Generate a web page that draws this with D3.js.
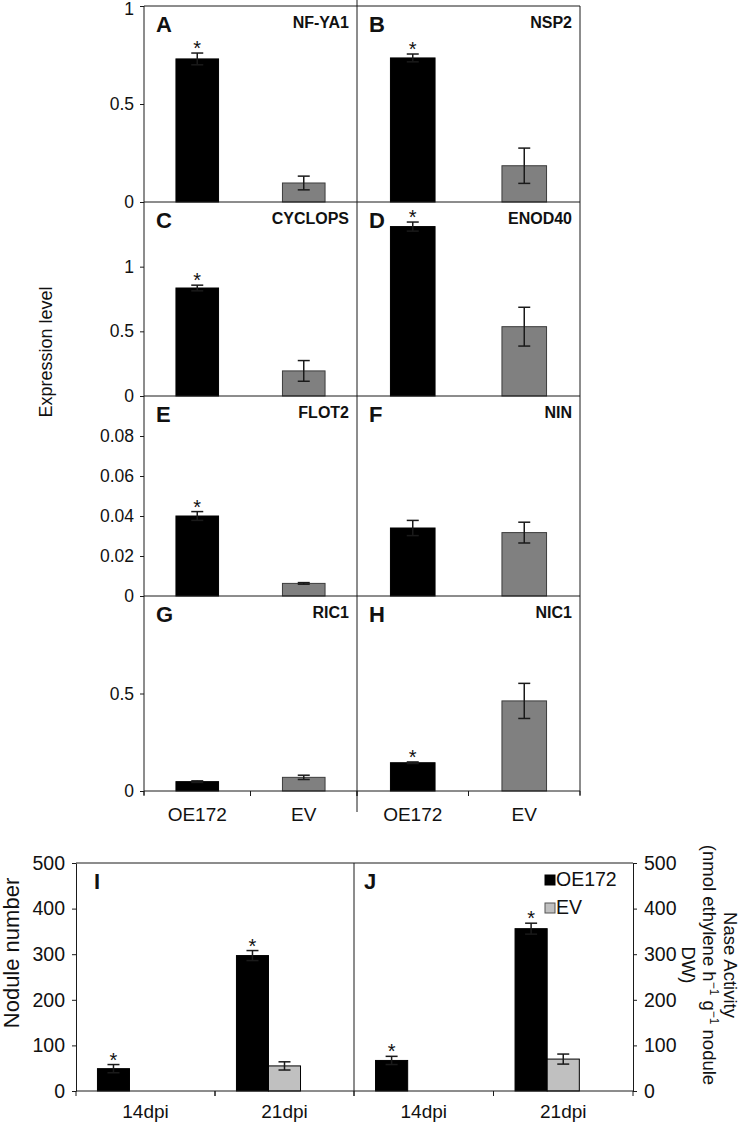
<!DOCTYPE html>
<html><head><meta charset="utf-8">
<script src="https://cdn.jsdelivr.net/npm/d3@7"></script>
<style>
html,body{margin:0;padding:0;background:#fff;}
svg{display:block;font-family:"Liberation Sans",Arial,Helvetica,sans-serif;}
</style></head><body>
<svg id="chart" width="742" height="1127"></svg>
<script>
// ---------------- DATA ----------------
const categories = ["OE172", "EV"];
const panelLetters = ["A", "B", "C", "D", "E", "F", "G", "H"];
const geneNames = ["NF-YA1", "NSP2", "CYCLOPS", "ENOD40", "FLOT2", "NIN", "RIC1", "NIC1"];
const oe172Expression    = [0.73, 0.735, 0.835, 1.31, 0.040, 0.034, 0.048, 0.145];
const oe172ExpressionErr = [0.03, 0.02, 0.022, 0.035, 0.0022, 0.0038, 0.004, 0.004];
const evExpression       = [0.097, 0.185, 0.194, 0.536, 0.0063, 0.0317, 0.070, 0.462];
const evExpressionErr    = [0.035, 0.09, 0.08, 0.15, 0.0004, 0.0052, 0.011, 0.09];
const oe172Significant   = [true, true, true, true, true, false, false, true];
const rowMaxima = [1, 1.5, 0.1, 1];
const rowTickValues = [[0, 0.5, 1], [0, 0.5, 1], [0, 0.02, 0.04, 0.06, 0.08], [0, 0.5]];

const timepoints = ["14dpi", "21dpi"];
const seriesNames = ["OE172", "EV"];
const noduleNumberOE172    = [49, 297];
const noduleNumberOE172Err = [9, 11];
const noduleNumberEV       = [null, 55];
const noduleNumberEVErr    = [null, 9];
const naseActivityOE172    = [67, 356];
const naseActivityOE172Err = [9, 12];
const naseActivityEV       = [null, 70];
const naseActivityEVErr    = [null, 11];
const bottomSignificantOE172 = [true, true];
const bottomMax = 500;
const bottomTickValues = [0, 100, 200, 300, 400, 500];

// ---------------- DRAWING ----------------
const svg = d3.select("#chart");
const LINE = "#1a1a1a";

function line(g, x1, y1, x2, y2, w = 1) {
  g.append("line").attr("x1", x1).attr("y1", y1).attr("x2", x2).attr("y2", y2)
    .attr("stroke", LINE).attr("stroke-width", w);
}
function errorBar(g, cx, yTop, yBot, cap = 6) {
  line(g, cx, yTop, cx, yBot, 1.5);
  line(g, cx - cap, yTop, cx + cap, yTop, 1.5);
  line(g, cx - cap, yBot, cx + cap, yBot, 1.5);
}
function star(g, cx, yTop) {
  g.append("text").attr("x", cx).attr("y", yTop + 2)
    .attr("text-anchor", "middle").attr("font-size", 20).attr("fill", "#111").text("*");
}

// ===== Top: expression panels A-H =====
const T = { left: 144, mid: 357, right: 580, top: 6, bottom: 791 };
const rowEdges = [6, 202, 396, 596, 791];
const colRanges = [[T.left, T.mid], [T.mid, T.right]];
const xCols = colRanges.map(r => d3.scaleBand().domain(categories).range(r).paddingInner(0.6).paddingOuter(0.3));
const yRows = rowMaxima.map((m, r) => d3.scaleLinear().domain([0, m]).range([rowEdges[r + 1], rowEdges[r]]));

const topG = svg.append("g");
const seriesFill = ["#000000", "#808080"];
const seriesStroke = ["#000000", "#3c3c3c"];

for (let i = 0; i < geneNames.length; i++) {
  const r = Math.floor(i / 2), c = i % 2;
  const x = xCols[c], y = yRows[r];
  const vals = [oe172Expression[i], evExpression[i]];
  const errs = [oe172ExpressionErr[i], evExpressionErr[i]];
  categories.forEach((cat, k) => {
    topG.append("rect")
      .attr("x", x(cat)).attr("width", x.bandwidth())
      .attr("y", y(vals[k])).attr("height", y(0) - y(vals[k]))
      .attr("fill", seriesFill[k]).attr("stroke", seriesStroke[k]).attr("stroke-width", 1);
    const cx = x(cat) + x.bandwidth() / 2;
    errorBar(topG, cx, y(vals[k] + errs[k]), y(Math.max(0, vals[k] - errs[k])));
    if (k === 0 && oe172Significant[i]) star(topG, cx, y(vals[k] + errs[k]));
  });
  const [cl, cr] = colRanges[c];
  topG.append("text").attr("x", cl + 12).attr("y", rowEdges[r] + 26)
    .attr("font-size", 22).attr("font-weight", "bold").attr("fill", "#111").text(panelLetters[i]);
  topG.append("text").attr("x", cr - 8).attr("y", rowEdges[r] + 22)
    .attr("text-anchor", "end").attr("font-size", 16).attr("font-weight", "bold").attr("fill", "#111").text(geneNames[i]);
}

// frame lines
rowEdges.forEach(yy => line(topG, T.left, yy, T.right, yy));
line(topG, T.left, T.top, T.left, T.bottom + 4);
line(topG, T.mid, 0, T.mid, T.bottom + 21);
line(topG, T.right, T.top, T.right, T.bottom + 4);

// left axes
yRows.forEach((y, r) => {
  const ax = topG.append("g").attr("transform", `translate(${T.left},0)`)
    .call(d3.axisLeft(y).tickValues(rowTickValues[r]).tickSize(4).tickSizeOuter(0).tickPadding(6)
      .tickFormat(d => String(d)));
  ax.select(".domain").remove();
  ax.selectAll("line").attr("stroke", LINE);
  ax.selectAll("text").attr("font-size", 17.5).attr("fill", "#111")
    .attr("font-family", "Liberation Sans, Arial, sans-serif")
    .attr("dy", d => (r === 0 && d === rowMaxima[0]) ? "0.5em" : "0.32em");
});

// bottom category axis
xCols.forEach((x, c) => {
  const [cl, cr] = colRanges[c];
  const boundary = (x(categories[0]) + x.bandwidth() + x(categories[1])) / 2;
  [cl, boundary, cr].forEach(px => line(topG, px, T.bottom, px, T.bottom + 5));
  categories.forEach(cat => {
    topG.append("text").attr("x", x(cat) + x.bandwidth() / 2).attr("y", T.bottom + 30)
      .attr("text-anchor", "middle").attr("font-size", 19).attr("fill", "#111").text(cat);
  });
});

// y title
topG.append("text").attr("transform", `translate(52,352) rotate(-90)`)
  .attr("text-anchor", "middle").attr("font-size", 18).attr("fill", "#111").text("Expression level");

// ===== Bottom: panels I and J =====
const B = { left: 76, mid: 354, right: 633, top: 863, bottom: 1091 };
const botG = svg.append("g");
const yB = d3.scaleLinear().domain([0, bottomMax]).range([B.bottom, B.top]);
const panelsB = [
  { range: [B.left, B.mid], letter: "I", oe: noduleNumberOE172, oeErr: noduleNumberOE172Err, ev: noduleNumberEV, evErr: noduleNumberEVErr },
  { range: [B.mid, B.right], letter: "J", oe: naseActivityOE172, oeErr: naseActivityOE172Err, ev: naseActivityEV, evErr: naseActivityEVErr }
];
const bottomFill = ["#000000", "#c0c0c0"];

panelsB.forEach(p => {
  const x0 = d3.scaleBand().domain(timepoints).range(p.range);
  // Excel layout keeps an empty third slot in each group
  const x1 = d3.scaleBand().domain(d3.range(seriesNames.length + 1)).range([0, x0.bandwidth()]).paddingOuter(0.67);
  timepoints.forEach((t, ti) => {
    const series = [[p.oe[ti], p.oeErr[ti]], [p.ev[ti], p.evErr[ti]]];
    series.forEach(([v, e], k) => {
      if (v == null) return;
      const bx = x0(t) + x1(k);
      botG.append("rect").attr("x", bx).attr("width", x1.bandwidth())
        .attr("y", yB(v)).attr("height", yB(0) - yB(v))
        .attr("fill", bottomFill[k]).attr("stroke", "#000").attr("stroke-width", 1);
      const cx = bx + x1.bandwidth() / 2;
      errorBar(botG, cx, yB(v + e), yB(v - e));
      if (k === 0 && bottomSignificantOE172[ti]) star(botG, cx, yB(v + e));
    });
    botG.append("text").attr("x", x0(t) + x0.bandwidth() / 2).attr("y", B.bottom + 27)
      .attr("text-anchor", "middle").attr("font-size", 19).attr("fill", "#111").text(t);
    line(botG, x0(t), B.bottom, x0(t), B.bottom + 5);
    line(botG, x0(t) + x0.bandwidth(), B.bottom, x0(t) + x0.bandwidth(), B.bottom + 5);
  });
  botG.append("text").attr("x", p.range[0] + (p.letter === "I" ? 18 : 10)).attr("y", B.top + 26)
    .attr("font-size", 22).attr("font-weight", "bold").attr("fill", "#111").text(p.letter);
});

// frame
line(botG, B.left, B.top, B.right, B.top);
line(botG, B.left, B.bottom, B.right, B.bottom);
line(botG, B.mid, B.top, B.mid, B.bottom);

const axL = botG.append("g").attr("transform", `translate(${B.left},0)`)
  .call(d3.axisLeft(yB).tickValues(bottomTickValues).tickSize(4).tickSizeOuter(0).tickPadding(7));
const axR = botG.append("g").attr("transform", `translate(${B.right},0)`)
  .call(d3.axisRight(yB).tickValues(bottomTickValues).tickSize(4).tickSizeOuter(0).tickPadding(7));
[axL, axR].forEach(ax => {
  ax.select(".domain").attr("stroke", LINE);
  ax.selectAll("line").attr("stroke", LINE);
  ax.selectAll("text").attr("font-size", 19.5).attr("fill", "#111")
    .attr("font-family", "Liberation Sans, Arial, sans-serif");
});

// legend
const legendY = [875, 903];
seriesNames.forEach((s, k) => {
  botG.append("rect").attr("x", 545).attr("y", legendY[k]).attr("width", 10).attr("height", 10)
    .attr("fill", bottomFill[k]).attr("stroke", k ? "#555" : "#000");
  botG.append("text").attr("x", 556).attr("y", legendY[k] + 11).attr("font-size", 19.5).attr("fill", "#111").text(s);
});

// axis titles
botG.append("text").attr("transform", `translate(19,953) rotate(-90)`)
  .attr("text-anchor", "middle").attr("font-size", 22).attr("fill", "#111").text("Nodule number");

const rt = botG.append("text").attr("transform", `translate(724,965) rotate(90)`)
  .attr("text-anchor", "middle").attr("font-size", 18.5).attr("fill", "#111");
rt.append("tspan").attr("x", 0).attr("dy", 0).text("Nase Activity");
const l2 = rt.append("tspan").attr("x", 0).attr("dy", 21);
l2.append("tspan").text("(nmol ethylene h");
l2.append("tspan").attr("dy", -7).attr("font-size", 12).text("−1");
l2.append("tspan").attr("dy", 7).text(" g");
l2.append("tspan").attr("dy", -7).attr("font-size", 12).text("−1");
l2.append("tspan").attr("dy", 7).text(" nodule");
rt.append("tspan").attr("x", 0).attr("dy", 21).text("DW)");
</script>
</body></html>
